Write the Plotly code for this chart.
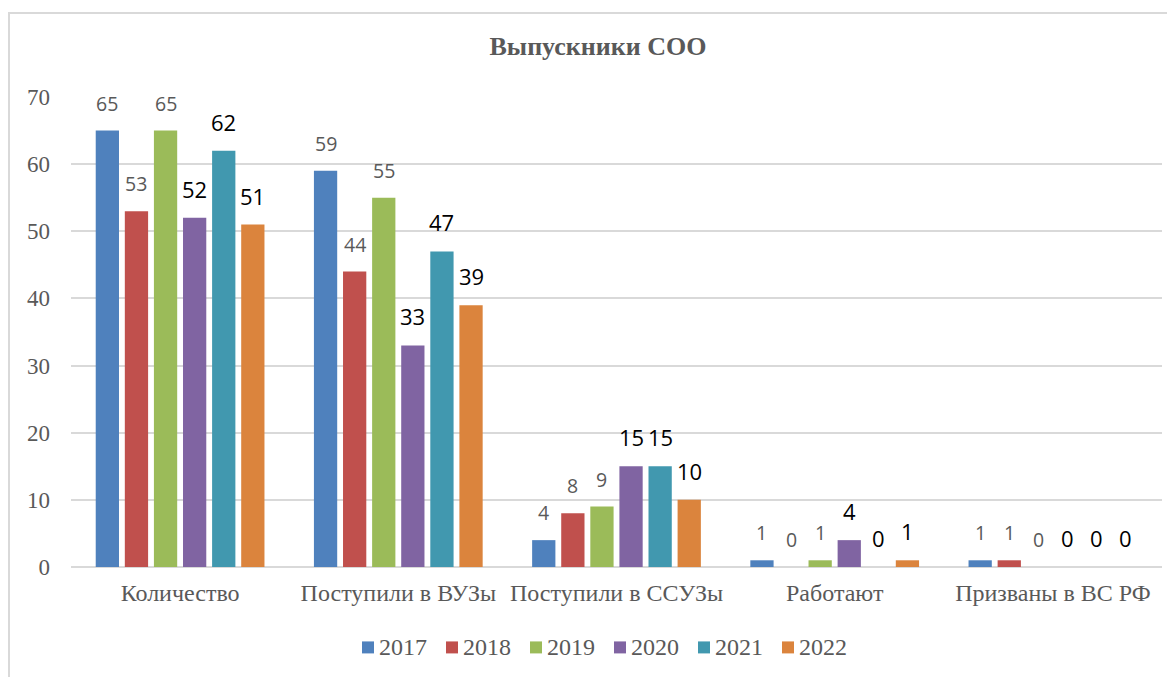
import plotly.graph_objects as go

categories = ["Количество", "Поступили в ВУЗы", "Поступили в ССУЗы", "Работают", "Призваны в ВС РФ"]
years = ["2017", "2018", "2019", "2020", "2021", "2022"]
v2017 = [65, 59, 4, 1, 1]
v2018 = [53, 44, 8, 0, 1]
v2019 = [65, 55, 9, 1, 0]
v2020 = [52, 33, 15, 4, 0]
v2021 = [62, 47, 15, 0, 0]
v2022 = [51, 39, 10, 1, 0]
series = [v2017, v2018, v2019, v2020, v2021, v2022]

colors = ["#4F81BD", "#C0504D", "#9BBB59", "#8064A2", "#4198AF", "#DB843D"]
label_colors = ["#595959", "#595959", "#595959", "#000000", "#000000", "#000000"]
label_sizes = [19.5, 19.5, 19.5, 22, 22, 22]

W, H = 1175, 677
OFF = 8  # page body margin
ML, MR, MT, MB = 63, 21, 89, 117.5
BARGAP = 0.2

serif = "Liberation Serif, Times New Roman, serif"
grey = "#595959"

fig = go.Figure()
for yr, vals, col in zip(years, series, colors):
    fig.add_trace(go.Bar(name=yr, x=categories, y=vals, marker_color=col,
                         marker_line_width=0, showlegend=False))

plot_w = W - ML - MR
plot_h = H - MT - MB


def py(px):
    return (H - MB - (px - OFF)) / plot_h


def pxx(px):
    return (px - OFF - ML) / plot_w


slot = plot_w / len(categories) * (1 - BARGAP) / len(years)
annotations = []
for j, vals in enumerate(series):
    for cat, v in zip(categories, vals):
        annotations.append(dict(
            x=cat, y=v, xref="x", yref="y", text=str(v), showarrow=False,
            xshift=(j - (len(years) - 1) / 2) * slot, yshift=12, yanchor="bottom",
            font=dict(family="Open Sans, sans-serif", size=label_sizes[j], color=label_colors[j])))

shapes = [dict(type="rect", xref="paper", yref="paper",
               x0=pxx(9), x1=pxx(W + 40), y0=py(H + 40), y1=py(13),
               line=dict(color="#D9D9D9", width=2), fillcolor="rgba(0,0,0,0)", layer="below")]
LEG_X0, LEG_STEP, LEG_Y, SQ = 362, 84, 648, 12
for j, (yr, col) in enumerate(zip(years, colors)):
    x0 = LEG_X0 + j * LEG_STEP
    shapes.append(dict(type="rect", xref="paper", yref="paper",
                       x0=pxx(x0), x1=pxx(x0 + SQ), y0=py(LEG_Y + SQ / 2), y1=py(LEG_Y - SQ / 2),
                       line=dict(width=0), fillcolor=col))
    annotations.append(dict(x=pxx(x0 + SQ + 3), y=py(LEG_Y), xref="paper", yref="paper",
                            text=yr, showarrow=False, xanchor="left", yanchor="middle",
                            font=dict(family=serif, size=24, color=grey)))

fig.update_layout(
    width=W, height=H,
    margin=dict(l=ML, r=MR, t=MT, b=MB),
    paper_bgcolor="white", plot_bgcolor="white",
    barmode="group", bargap=BARGAP, bargroupgap=0.2,
    showlegend=False,
    title=dict(text="<b>Выпускники СОО</b>", x=590 / W, xanchor="center",
               y=1 - 38 / H, yanchor="middle",
               font=dict(family=serif, size=26, color=grey)),
    xaxis=dict(showgrid=False, showline=False, ticks="", zeroline=False, automargin=False,
               tickfont=dict(family=serif, size=24, color=grey),
               ticklabelstandoff=9),
    yaxis=dict(range=[0, 70], dtick=10, showgrid=True, gridcolor="#D9D9D9", gridwidth=1.5,
               zeroline=True, zerolinecolor="#D9D9D9", zerolinewidth=1.5,
               showline=False, ticks="", automargin=False,
               tickfont=dict(family=serif, size=23, color=grey),
               ticklabelstandoff=20),
    annotations=annotations,
    shapes=shapes,
)

fig.write_html("out.html")
